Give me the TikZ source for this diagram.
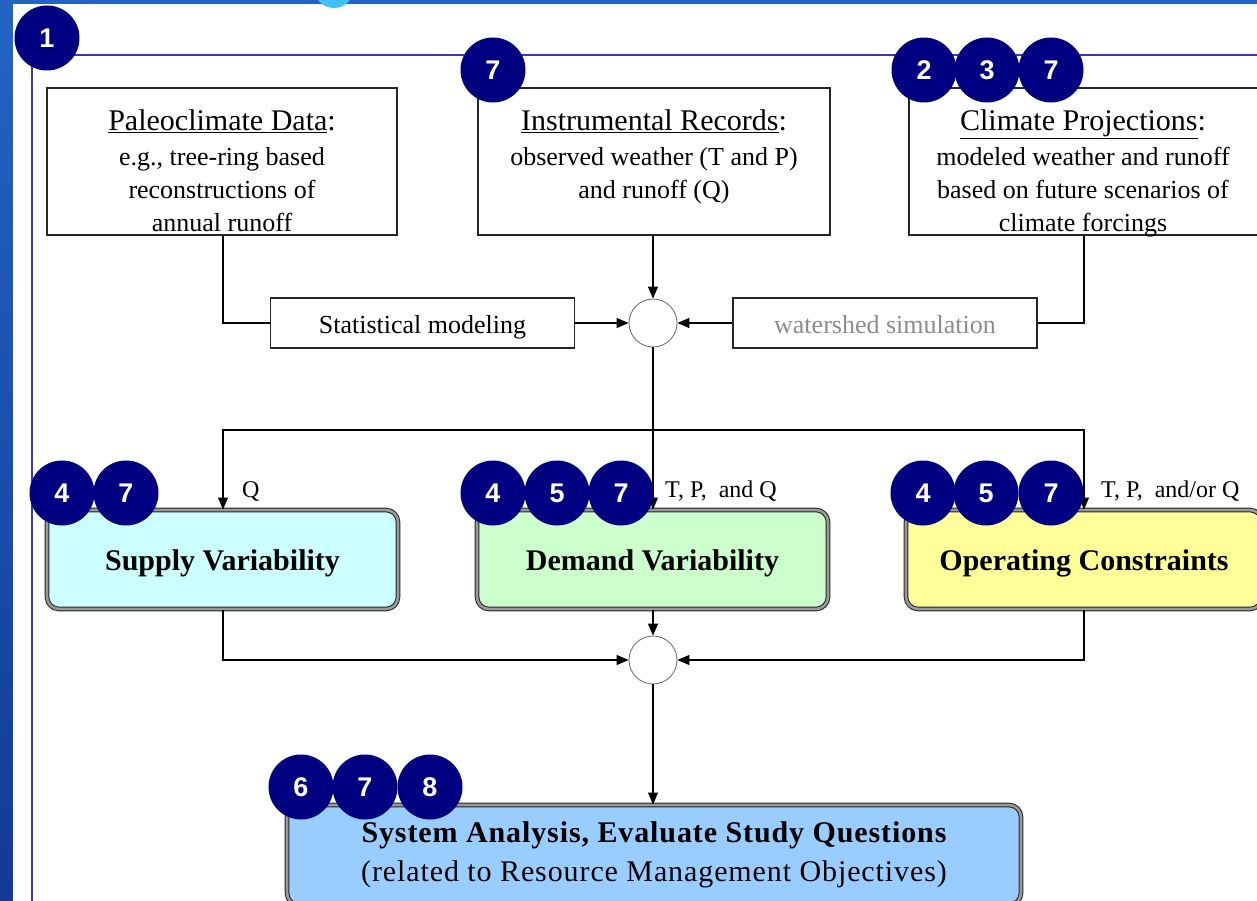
\documentclass[tikz,border=0pt]{standalone}
\usepackage{fontspec}
\setmainfont{Liberation Serif}
\newfontfamily\badgefont{Liberation Sans}
\newfontfamily\widefont{Liberation Serif}[LetterSpace=3]
\usetikzlibrary{arrows.meta, positioning}
\definecolor{slideblue}{RGB}{28,78,165}
\definecolor{framelin}{RGB}{58,58,168}
\definecolor{badgenavy}{RGB}{0,0,128}
\definecolor{supplyfill}{RGB}{204,255,255}
\definecolor{demandfill}{RGB}{204,255,204}
\definecolor{operfill}{RGB}{255,255,153}
\definecolor{systemfill}{RGB}{153,204,255}

\begin{document}
\begin{tikzpicture}[x=1pt, y=-1pt,
    srcbox/.style={draw=black!85, line width=1.1pt, fill=white, inner sep=0pt},
    srctext/.style={anchor=north, align=center, inner sep=0pt, font=\fontsize{26}{33}\selectfont},
    stepbox/.style={draw=black!85, line width=1.1pt, fill=white, minimum width=304pt, minimum height=50pt, text height=20pt, text depth=0pt, font=\fontsize{26}{30}\selectfont},
    mixer/.style={circle, draw=black!60, line width=0.8pt, fill=white, minimum size=48pt, inner sep=0pt},
    varbox/.style={draw=black!85, line width=1pt, double=black!40, double distance=2.6pt, rounded corners=12pt, minimum width=351pt, minimum height=99pt, font=\fontsize{30}{34}\selectfont\bfseries},
    badge/.style={circle, fill=badgenavy, minimum size=65pt, inner sep=0pt, text=white, font=\badgefont\fontsize{27}{27}\selectfont\bfseries},
    conn/.style={line width=1.1pt},
    flow/.style={conn, -{Triangle[length=12pt, width=10pt]}},
    tag/.style={anchor=west, inner sep=0pt, font=\fontsize{24}{26}\selectfont}]
  \useasboundingbox (0,0) rectangle (1257,901);
  % slide background and frame
  \shade[top color={rgb,255:red,35;green,100;blue,195}, bottom color={rgb,255:red,18;green,58;blue,150}] (0,0) rectangle (1257,901);
  \fill[white] (13,4) rectangle (1257,901);
  \fill[cyan!75] (334,-12) circle (20);
  \draw[framelin, line width=2pt] (1260,55) -| (32,905);

  % data sources
  \node[srcbox, minimum width=350pt, minimum height=147pt] (paleo) at (222,161.5) {};
  \node[srcbox, minimum width=352pt, minimum height=147pt] (instr) at (654,161.5) {};
  \node[srcbox, minimum width=350pt, minimum height=147pt] (proj) at (1084,161.5) {};
  \node[srctext] (paleoT) at (222,109.5) {{\fontsize{30}{33}\selectfont\underline{Paleoclimate Data}:}\\[2pt] e.g., tree-ring based\\ reconstructions of\\ annual runoff};
  \node[srctext] (instrT) at (654,109.5) {{\fontsize{30}{33}\selectfont\underline{Instrumental Records}:}\\[2pt] observed weather (T and P)\\ and runoff (Q)};
  \node[srctext] (projT) at (1083,109.5) {{\fontsize{30}{33}\selectfont\underline{Climate Projections}:}\\[2pt] modeled weather and runoff\\ based on future scenarios of\\ climate forcings};

  \node[stepbox] (stat) at (422.5,323) {Statistical modeling};
  \node[stepbox, text=black!45] (shed) at (885,323) {watershed simulation};
  \node[mixer] (mixA) at (653,323) {};

  \draw[conn] (paleo.south -| 223,0) |- (stat.west);
  \draw[conn] (proj.south) |- (shed.east);
  \draw[flow] (stat) -- (mixA);
  \draw[flow] (shed) -- (mixA);
  \draw[flow] (instr.south -| mixA) -- (mixA);

  % variability boxes
  \node[varbox, fill=supplyfill, text height=22pt, text depth=0pt] (supply) at (222.5,559.5) {Supply Variability};
  \node[varbox, fill=demandfill, text height=22pt, text depth=0pt] (demand) at (652.5,559.5) {Demand Variability};
  \node[varbox, fill=operfill, text height=22pt, text depth=0pt, minimum width=356pt] (oper) at (1084,559.5) {Operating Constraints};

  \coordinate (fork) at (653,430);
  \draw[flow] (mixA) -- (mixA |- demand.north);
  \draw[flow] (fork) -| (supply.north -| 223,0);
  \draw[flow] (fork) -| (oper.north);
  \node[tag] (qS) at (242,491) {Q};
  \node[tag] (qD) at (665,491) {T, P, \ and Q};
  \node[tag] (qO) at (1101,491) {T, P, \ and/or Q};

  % system analysis
  \node[mixer] (mixB) at (653,660) {};
  \node[varbox, fill=systemfill, minimum width=734pt, minimum height=100pt, align=center, font=\widefont\fontsize{30}{39}\selectfont] (system) at (654,855)
    {{\bfseries System Analysis, Evaluate Study Questions}\\(related to Resource Management Objectives)};
  \draw[flow] (supply.south -| 223,0) |- (mixB);
  \draw[flow] (oper.south) |- (mixB);
  \draw[flow] (demand.south -| mixB) -- (mixB);
  \draw[flow] (mixB) -- (mixB |- system.north);

  % numbered badges
  \foreach \n/\x/\y [count=\i] in {1/47/38, 7/493/70, 2/924/70, 3/987/70, 7/1051/70,
      4/62/493, 7/126/493, 4/493/493, 5/557/493, 7/621/493,
      4/923/493, 5/986/493, 7/1051/493, 6/301/787, 7/365/787, 8/430/787}
    \node[badge] (badge\i) at (\x,\y) {\n};
\end{tikzpicture}
\end{document}
